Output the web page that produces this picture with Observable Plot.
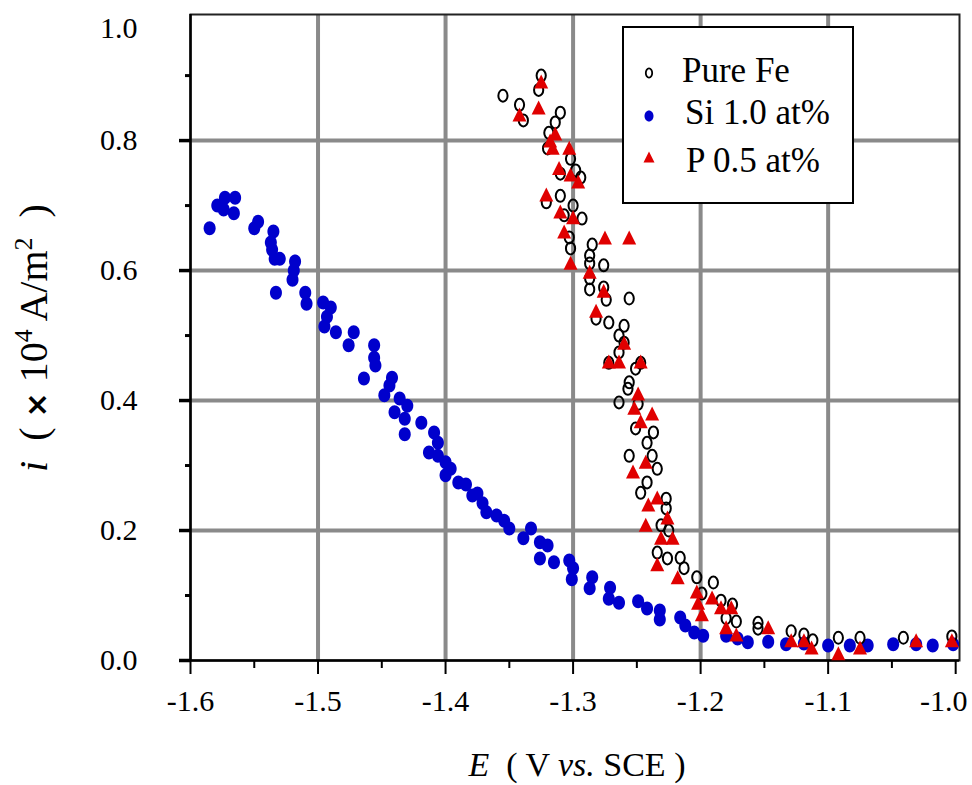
<!DOCTYPE html>
<html>
<head>
<meta charset="utf-8">
<script src="https://cdn.jsdelivr.net/npm/d3@7"></script>
<script src="https://cdn.jsdelivr.net/npm/@observablehq/plot@0.6"></script>
<style>
  html, body { margin: 0; padding: 0; background: #fff; }
  #chart { width: 972px; height: 785px; }
  #chart svg g[aria-label$="tick label"] text {
    font-size: 30px !important;
    font-family: 'Liberation Serif', 'Times New Roman', serif !important;
  }
</style>
</head>
<body>
<div id="chart"></div>
<script>
// ---- Data (E in V vs. SCE, i in 10^4 A/m^2) ----
const seriesNames = ["Pure Fe", "Si 1.0 at%", "P 0.5 at%"];

const feE = [-1.355,-1.325,-1.327,-1.342,-1.339,-1.310,-1.314,-1.319,-1.320,-1.302,-1.298,-1.310,-1.294,-1.310,-1.321,-1.300,-1.293,-1.307,-1.303,-1.302,-1.285,-1.287,-1.287,-1.276,-1.287,-1.287,-1.276,-1.274,-1.256,-1.282,-1.272,-1.260,-1.264,-1.260,-1.264,-1.272,-1.247,-1.251,-1.256,-1.257,-1.264,-1.249,-1.251,-1.237,-1.242,-1.256,-1.238,-1.234,-1.242,-1.247,-1.227,-1.227,-1.231,-1.225,-1.234,-1.226,-1.216,-1.213,-1.203,-1.190,-1.199,-1.184,-1.175,-1.180,-1.172,-1.155,-1.155,-1.129,-1.119,-1.112,-1.092,-1.075,-1.041,-1.003];
const feI = [0.869,0.900,0.878,0.855,0.831,0.843,0.828,0.812,0.788,0.772,0.754,0.749,0.743,0.715,0.705,0.700,0.680,0.685,0.651,0.634,0.640,0.623,0.611,0.608,0.588,0.571,0.574,0.555,0.557,0.526,0.520,0.515,0.500,0.489,0.474,0.458,0.458,0.449,0.428,0.418,0.397,0.395,0.357,0.351,0.335,0.315,0.315,0.295,0.274,0.258,0.249,0.234,0.208,0.200,0.166,0.157,0.158,0.142,0.128,0.120,0.103,0.092,0.086,0.065,0.060,0.058,0.049,0.045,0.040,0.031,0.035,0.035,0.035,0.037];

const siE = [-1.585,-1.579,-1.574,-1.573,-1.565,-1.566,-1.547,-1.550,-1.535,-1.537,-1.536,-1.534,-1.530,-1.518,-1.519,-1.520,-1.533,-1.510,-1.509,-1.496,-1.490,-1.493,-1.495,-1.486,-1.472,-1.476,-1.456,-1.456,-1.455,-1.464,-1.442,-1.444,-1.448,-1.436,-1.430,-1.440,-1.432,-1.432,-1.419,-1.409,-1.406,-1.413,-1.406,-1.400,-1.396,-1.400,-1.390,-1.384,-1.379,-1.375,-1.371,-1.368,-1.360,-1.354,-1.350,-1.339,-1.333,-1.326,-1.320,-1.326,-1.315,-1.303,-1.300,-1.301,-1.285,-1.287,-1.271,-1.272,-1.264,-1.249,-1.242,-1.232,-1.232,-1.216,-1.212,-1.205,-1.198,-1.180,-1.171,-1.163,-1.147,-1.133,-1.119,-1.100,-1.083,-1.069,-1.049,-1.031,-1.018,-1.002];
const siI = [0.665,0.700,0.694,0.712,0.712,0.688,0.675,0.665,0.660,0.643,0.632,0.618,0.618,0.614,0.600,0.586,0.566,0.566,0.549,0.551,0.543,0.529,0.514,0.505,0.505,0.485,0.485,0.466,0.454,0.434,0.435,0.423,0.408,0.403,0.392,0.382,0.372,0.348,0.366,0.351,0.335,0.320,0.315,0.305,0.295,0.285,0.274,0.271,0.254,0.257,0.242,0.228,0.223,0.215,0.203,0.188,0.203,0.182,0.177,0.157,0.151,0.154,0.142,0.125,0.128,0.111,0.112,0.095,0.089,0.091,0.080,0.077,0.063,0.066,0.054,0.043,0.038,0.038,0.034,0.028,0.029,0.025,0.026,0.023,0.023,0.023,0.025,0.025,0.023,0.025];

const pE = [-1.325,-1.327,-1.342,-1.314,-1.318,-1.316,-1.303,-1.311,-1.302,-1.296,-1.321,-1.310,-1.300,-1.307,-1.275,-1.256,-1.302,-1.287,-1.276,-1.282,-1.260,-1.272,-1.264,-1.247,-1.249,-1.252,-1.238,-1.247,-1.243,-1.253,-1.234,-1.241,-1.226,-1.243,-1.231,-1.222,-1.234,-1.218,-1.203,-1.202,-1.191,-1.184,-1.176,-1.199,-1.180,-1.172,-1.147,-1.129,-1.119,-1.113,-1.092,-1.075,-1.031,-1.003];
const pI = [0.891,0.851,0.840,0.811,0.800,0.789,0.789,0.758,0.748,0.737,0.717,0.691,0.682,0.660,0.651,0.651,0.612,0.598,0.569,0.538,0.489,0.460,0.460,0.460,0.411,0.389,0.380,0.368,0.306,0.291,0.251,0.240,0.220,0.209,0.189,0.189,0.148,0.128,0.106,0.089,0.097,0.082,0.082,0.071,0.051,0.040,0.051,0.031,0.031,0.020,0.011,0.020,0.031,0.031];

const xTicks = [-1.6,-1.5,-1.4,-1.3,-1.2,-1.1];
const xLastTick = [-1.0];
const xMinorTicks = [-1.55,-1.45,-1.35,-1.25,-1.15,-1.05];
const yTicks = [0.0,0.2,0.4,0.6,0.8];
const yTopTick = [1.0];
const yMinorTicks = [0.1,0.3,0.5,0.7,0.9];
const xGridTicks = [-1.5,-1.4,-1.3,-1.2,-1.1];
const yGridTicks = [0.2,0.4,0.6,0.8];

const toRows = (E, I) => E.map((e, k) => ({E: e, i: I[k]}));
const feRows = toRows(feE, feI);
const siRows = toRows(siE, siI);
const pRows = toRows(pE, pI);

// ---- custom symbols ----
function ellipseSymbol(rx, ry) {
  const kx = rx * 0.5523, ky = ry * 0.5523;
  return {
    draw(ctx) {
      ctx.moveTo(rx, 0);
      ctx.bezierCurveTo(rx, ky, kx, ry, 0, ry);
      ctx.bezierCurveTo(-kx, ry, -rx, ky, -rx, 0);
      ctx.bezierCurveTo(-rx, -ky, -kx, -ry, 0, -ry);
      ctx.bezierCurveTo(kx, -ry, rx, -ky, rx, 0);
      ctx.closePath();
    }
  };
}
function triangleSymbol(w, h) {
  return {
    draw(ctx) {
      ctx.moveTo(0, -h / 2);
      ctx.lineTo(w / 2, h / 2);
      ctx.lineTo(-w / 2, h / 2);
      ctx.closePath();
    }
  };
}

const serif = "'Liberation Serif', 'Times New Roman', serif";
const fmt1 = d => d.toFixed(1);
const noText = () => "";
const tickFont = 30;

const chart = Plot.plot({
  width: 972,
  height: 785,
  marginLeft: 190,
  marginRight: 13,
  marginTop: 14,
  marginBottom: 125,
  style: {fontFamily: serif, fontSize: "30px", color: "#000", background: "#fff", overflow: "visible"},
  x: {domain: [-1.6, -0.997]},
  y: {domain: [0, 0.994]},
  marks: [
    Plot.gridX({ticks: xGridTicks, stroke: "#8a8a8a", strokeOpacity: 1, strokeWidth: 4}),
    Plot.gridY({ticks: yGridTicks, stroke: "#8a8a8a", strokeOpacity: 1, strokeWidth: 4}),
    Plot.frame({stroke: "#222", strokeWidth: 2}),
    Plot.ruleX([-1.6], {stroke: "#000", strokeWidth: 2.5}),
    Plot.ruleY([0], {stroke: "#000", strokeWidth: 2.5}),
    Plot.axisX({ticks: xTicks, tickSize: 14, tickPadding: 15, strokeWidth: 2, tickFormat: fmt1, label: null, fill: "#000", fontSize: tickFont}),
    Plot.axisX({ticks: xLastTick, tickSize: 14, strokeWidth: 2, tickFormat: noText, label: null}),
    Plot.axisX({ticks: xLastTick, tickSize: 0, tickPadding: 29, tickFormat: fmt1, label: null, fill: "#000", fontSize: tickFont, dx: -12}),
    Plot.axisX({ticks: xMinorTicks, tickSize: 8, strokeWidth: 2, tickFormat: noText, label: null}),
    Plot.axisY({ticks: yTicks, tickSize: 11, tickPadding: 42, strokeWidth: 3.5, tickFormat: fmt1, label: null, fill: "#000", fontSize: tickFont}),
    Plot.axisY({ticks: yTopTick, tickSize: 0, tickPadding: 53, dy: 18, tickFormat: fmt1, label: null, fill: "#000", fontSize: tickFont}),
    Plot.axisY({ticks: yMinorTicks, tickSize: 5, strokeWidth: 3, tickFormat: noText, label: null}),
    Plot.dot(siRows, {x: "E", y: "i", symbol: ellipseSymbol(6, 7), r: 6, fill: "#0000cc", stroke: "none"}),
    Plot.dot(feRows, {x: "E", y: "i", symbol: ellipseSymbol(4.6, 6), r: 5, fill: "#fff", fillOpacity: 0, stroke: "#000", strokeWidth: 2}),
    Plot.dot(pRows, {x: "E", y: "i", symbol: triangleSymbol(14, 14), r: 6, fill: "#e00000", stroke: "none"})
  ]
});

document.getElementById("chart").appendChild(chart);

// ---- titles and legend (decoration appended to the same SVG) ----
const svg = d3.select(chart);

// x axis title
const xt = svg.append("text")
  .attr("x", 577).attr("y", 776)
  .attr("text-anchor", "middle")
  .style("font-family", serif).style("font-size", "34px").attr("fill", "#000")
  .style("white-space", "pre");
xt.append("tspan").attr("font-style", "italic").text("E");
xt.append("tspan").text("  ( V ");
xt.append("tspan").attr("font-style", "italic").text("vs.");
xt.append("tspan").text(" SCE )");

// y axis title
const yt = svg.append("text")
  .attr("transform", "translate(47,338) rotate(-90)")
  .attr("text-anchor", "middle")
  .style("font-family", serif).style("font-size", "40px").attr("fill", "#000")
  .style("white-space", "pre");
yt.append("tspan").attr("font-style", "italic").text("i");
yt.append("tspan").text("  ( ");
yt.append("tspan").style("font-family", "'DejaVu Sans', sans-serif").attr("font-weight", "bold").style("font-size", "30px").text("×");
yt.append("tspan").text(" 10");
yt.append("tspan").attr("dy", "-15").style("font-size", "26px").text("4");
yt.append("tspan").attr("dy", "15").text(" A/m");
yt.append("tspan").attr("dy", "-15").style("font-size", "26px").text("2");
yt.append("tspan").attr("dy", "15").text("  )");

// legend
const lg = svg.append("g").attr("text-anchor", "start");
lg.append("rect").attr("x", 623).attr("y", 27).attr("width", 230).attr("height", 176)
  .attr("fill", "#fff").attr("stroke", "#000").attr("stroke-width", 2);
const legendRows = [
  {name: seriesNames[0], cy: 73, ty: 82, tx: 682},
  {name: seriesNames[1], cy: 116, ty: 124, tx: 685},
  {name: seriesNames[2], cy: 157, ty: 172, tx: 686}
];
const pathOf = sym => { const p = d3.path(); sym.draw(p); return p.toString(); };
lg.append("path").attr("d", pathOf(ellipseSymbol(3.2, 4.6))).attr("transform", `translate(649,${legendRows[0].cy})`)
  .attr("fill", "none").attr("stroke", "#000").attr("stroke-width", 1.8);
lg.append("path").attr("d", pathOf(ellipseSymbol(4.5, 5.5))).attr("transform", `translate(649,${legendRows[1].cy})`)
  .attr("fill", "#0000cc");
lg.append("path").attr("d", pathOf(triangleSymbol(11, 11))).attr("transform", `translate(649,${legendRows[2].cy})`)
  .attr("fill", "#e00000");
legendRows.forEach(r => {
  lg.append("text").attr("x", r.tx).attr("y", r.ty).attr("text-anchor", "start")
    .style("font-family", serif).style("font-size", "35px").attr("fill", "#000")
    .text(r.name);
});
</script>
</body>
</html>
